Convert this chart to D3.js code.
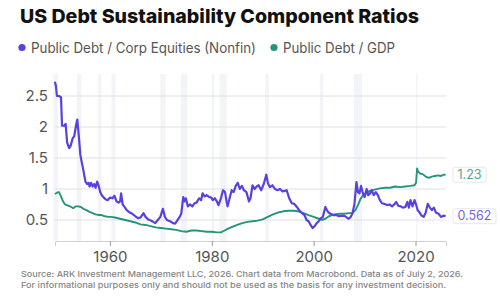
<!DOCTYPE html>
<html>
<head>
<meta charset="utf-8">
<script src="https://cdn.jsdelivr.net/npm/d3@7"></script>
<style>
  body { margin: 0; background: #fff; }
  svg { display: block; font-family: Inter, "Noto Sans", sans-serif; }
</style>
</head>
<body>
<svg width="500" height="298"></svg>
<script>
// Public debt / corporate equities (nonfinancial), [year, ratio]
const equityRatio = [
  [1949.2, 2.73], [1949.4, 2.66], [1949.6, 2.5], [1950.0, 2.5], [1950.4, 2.48], [1950.6, 2.02],
  [1951.0, 2.02], [1951.3, 2.05], [1951.6, 1.75], [1952.0, 1.66], [1952.3, 1.7], [1952.7, 1.82],
  [1953.0, 1.85], [1953.4, 2.05], [1953.6, 2.12], [1953.9, 1.85], [1954.2, 1.55], [1954.5, 1.42],
  [1954.8, 1.3], [1955.0, 1.2], [1955.2, 1.12], [1955.5, 1.08], [1955.8, 1.1], [1956.0, 1.04],
  [1956.3, 1.1], [1956.6, 1.04], [1956.9, 1.08], [1957.2, 1.02], [1957.5, 1.12], [1957.8, 1.05],
  [1958.1, 0.95], [1958.4, 0.9], [1958.8, 0.86], [1959.2, 0.83], [1959.6, 0.82], [1960.0, 0.86],
  [1960.5, 0.85], [1960.9, 0.89], [1961.3, 0.8], [1961.7, 0.78], [1962.0, 0.8], [1962.2, 0.93],
  [1962.5, 0.75], [1962.8, 0.72], [1963.3, 0.66], [1963.9, 0.62], [1964.4, 0.6], [1965.0, 0.56],
  [1965.5, 0.53], [1966.0, 0.54], [1966.6, 0.61], [1967.0, 0.55], [1967.5, 0.51], [1968.0, 0.49],
  [1968.5, 0.47], [1968.9, 0.45], [1969.4, 0.5], [1969.9, 0.55], [1970.4, 0.68], [1970.8, 0.55],
  [1971.2, 0.5], [1971.8, 0.48], [1972.4, 0.45], [1972.8, 0.44], [1973.3, 0.5], [1973.7, 0.55],
  [1974.0, 0.6], [1974.4, 0.87], [1974.6, 0.8], [1974.9, 0.85], [1975.3, 0.72], [1975.7, 0.75],
  [1976.2, 0.72], [1976.6, 0.77], [1977.0, 0.78], [1977.5, 0.85], [1977.9, 0.82], [1978.2, 0.93],
  [1978.6, 0.88], [1979.0, 0.9], [1979.5, 0.87], [1979.9, 0.86], [1980.2, 0.82], [1980.6, 0.85],
  [1981.0, 0.8], [1981.3, 0.74], [1981.8, 0.85], [1982.2, 0.98], [1982.6, 0.95], [1982.9, 0.8],
  [1983.1, 0.72], [1983.5, 0.85], [1983.9, 0.98], [1984.3, 0.95], [1984.7, 1.05], [1985.1, 1.1],
  [1985.5, 1.0], [1985.9, 1.05], [1986.3, 0.98], [1986.8, 0.95], [1987.3, 0.8], [1987.6, 0.85],
  [1988.0, 1.06], [1988.4, 1.0], [1988.8, 1.04], [1989.2, 1.06], [1989.7, 0.98], [1990.2, 1.08],
  [1990.7, 1.23], [1991.0, 1.1], [1991.4, 1.03], [1991.9, 1.06], [1992.4, 1.0], [1992.9, 0.98],
  [1993.4, 1.0], [1993.9, 0.96], [1994.3, 0.97], [1994.7, 0.98], [1995.2, 0.85], [1995.7, 0.77],
  [1996.2, 0.76], [1996.7, 0.71], [1997.2, 0.65], [1997.6, 0.62], [1998.2, 0.58], [1998.6, 0.5],
  [1999.0, 0.48], [1999.4, 0.42], [1999.8, 0.37], [2000.2, 0.4], [2000.6, 0.45], [2001.0, 0.48],
  [2001.3, 0.52], [2001.8, 0.55], [2002.3, 0.71], [2002.6, 0.66], [2002.9, 0.62], [2003.3, 0.6],
  [2003.8, 0.58], [2004.4, 0.58], [2005.0, 0.56], [2005.6, 0.57], [2006.2, 0.56], [2006.8, 0.52],
  [2007.2, 0.54], [2007.6, 0.6], [2008.0, 0.75], [2008.4, 1.11], [2008.7, 0.95], [2009.0, 0.93],
  [2009.3, 1.05], [2009.6, 0.95], [2010.0, 0.87], [2010.4, 1.0], [2010.7, 0.9], [2011.0, 0.92],
  [2011.4, 0.98], [2011.8, 0.9], [2012.2, 0.95], [2012.6, 0.9], [2013.0, 0.82], [2013.4, 0.77],
  [2013.9, 0.76], [2014.4, 0.74], [2014.9, 0.75], [2015.4, 0.72], [2015.8, 0.75], [2016.2, 0.79],
  [2016.6, 0.73], [2017.1, 0.72], [2017.5, 0.7], [2018.0, 0.71], [2018.4, 0.79], [2018.7, 0.7],
  [2019.0, 0.82], [2019.4, 0.72], [2019.8, 0.82], [2020.1, 0.75], [2020.4, 0.66], [2020.8, 0.62],
  [2021.2, 0.57], [2021.6, 0.55], [2022.0, 0.62], [2022.4, 0.76], [2022.8, 0.7], [2023.2, 0.66],
  [2023.6, 0.7], [2024.0, 0.62], [2024.5, 0.6], [2025.0, 0.55], [2025.5, 0.57], [2025.9, 0.562]
];

// Public debt / GDP, [year, ratio]
const gdpRatio = [
  [1949.2, 0.92], [1949.6, 0.94], [1950.0, 0.95], [1950.4, 0.88], [1950.8, 0.8], [1951.2, 0.75],
  [1951.8, 0.73], [1952.4, 0.71], [1952.8, 0.69], [1953.3, 0.72], [1953.8, 0.72], [1954.3, 0.71],
  [1954.8, 0.68], [1955.4, 0.66], [1956.0, 0.63], [1956.6, 0.61], [1957.2, 0.59], [1957.8, 0.58],
  [1958.4, 0.58], [1959.0, 0.56], [1959.6, 0.55], [1960.2, 0.55], [1961.0, 0.54], [1962.0, 0.52],
  [1963.0, 0.5], [1964.0, 0.48], [1965.0, 0.46], [1966.0, 0.43], [1967.0, 0.42], [1968.0, 0.4],
  [1969.0, 0.38], [1970.0, 0.37], [1971.0, 0.36], [1972.0, 0.35], [1973.0, 0.34], [1974.0, 0.32],
  [1975.0, 0.31], [1976.0, 0.33], [1977.0, 0.33], [1978.0, 0.32], [1979.0, 0.31], [1980.0, 0.31],
  [1981.0, 0.3], [1981.8, 0.3], [1982.5, 0.33], [1983.2, 0.36], [1984.0, 0.39], [1985.0, 0.42],
  [1986.0, 0.45], [1987.0, 0.47], [1988.0, 0.48], [1989.0, 0.49], [1990.0, 0.51], [1991.0, 0.55],
  [1992.0, 0.59], [1993.0, 0.62], [1994.0, 0.64], [1995.0, 0.65], [1996.0, 0.65], [1997.0, 0.64],
  [1998.0, 0.61], [1999.0, 0.58], [2000.0, 0.55], [2001.0, 0.52], [2001.6, 0.5], [2002.3, 0.52],
  [2003.0, 0.56], [2004.0, 0.59], [2005.0, 0.6], [2006.0, 0.6], [2007.0, 0.61], [2007.6, 0.61],
  [2008.2, 0.66], [2008.7, 0.74], [2009.2, 0.84], [2009.7, 0.9], [2010.3, 0.93], [2011.0, 0.97],
  [2012.0, 0.99], [2013.0, 1.01], [2014.0, 1.02], [2015.0, 1.02], [2016.0, 1.04], [2017.0, 1.03],
  [2018.0, 1.04], [2019.0, 1.05], [2019.8, 1.06], [2020.1, 1.1], [2020.3, 1.33], [2020.5, 1.28],
  [2020.9, 1.25], [2021.4, 1.24], [2022.0, 1.2], [2022.6, 1.18], [2023.2, 1.2], [2023.8, 1.21],
  [2024.4, 1.22], [2025.0, 1.21], [2025.5, 1.23], [2025.9, 1.23]
];

// NBER recessions, [start, end]
const recessions = [
  [1948.9, 1949.8], [1953.5, 1954.4], [1957.6, 1958.3], [1960.3, 1961.1], [1969.9, 1970.9],
  [1973.9, 1975.2], [1980.0, 1980.5], [1981.5, 1982.9], [1990.5, 1991.2], [2001.2, 2001.9],
  [2007.9, 2009.5], [2020.1, 2020.35]
];

const yTicks = [0.5, 1, 1.5, 2, 2.5];
const yTickLabels = ["0.5", "1", "1.5", "2", "2.5"];
const xTicks = [1960, 1980, 2000, 2020];

const seriesNames = ["Public Debt / Corp Equities (Nonfin)", "Public Debt / GDP"];
const seriesColors = ["#5742e0", "#24957a"];
const lastLabels = ["0.562", "1.23"];

const svg = d3.select("svg");

const x = d3.scaleLinear().domain([1949.22, 2025.98]).range([55, 446]);
const y = d3.scaleLinear().domain([0.161, 2.855]).range([241, 74]);

// Title
svg.append("text")
  .attr("x", 20)
  .attr("y", 23)
  .attr("font-size", 19)
  .attr("font-weight", 800)
  .attr("fill", "#111")
  .attr("textLength", 399)
  .attr("lengthAdjust", "spacingAndGlyphs")
  .text("US Debt Sustainability Component Ratios");

// Legend
const legendX = [22, 274];
const legendW = [225, 112];
seriesNames.forEach((name, i) => {
  svg.append("circle")
    .attr("cx", legendX[i])
    .attr("cy", 47.5)
    .attr("r", 3.6)
    .attr("fill", seriesColors[i]);
  svg.append("text")
    .attr("x", legendX[i] + 9)
    .attr("y", 52.5)
    .attr("font-size", 14)
    .attr("fill", "#555")
    .attr("textLength", legendW[i])
    .attr("lengthAdjust", "spacingAndGlyphs")
    .text(name);
});

// Recession shading
svg.append("g")
  .selectAll("rect")
  .data(recessions)
  .enter()
  .append("rect")
  .attr("x", d => x(d[0]))
  .attr("width", d => Math.max(1.5, x(d[1]) - x(d[0])))
  .attr("y", 74)
  .attr("height", 241 - 74)
  .attr("fill", "#f3f4f8");

// Gridlines + y labels
const grid = svg.append("g");
grid.selectAll("line")
  .data(yTicks)
  .enter()
  .append("line")
  .attr("x1", 55)
  .attr("x2", 446)
  .attr("y1", d => y(d))
  .attr("y2", d => y(d))
  .style("stroke", "#e0e0e0");

grid.selectAll("text")
  .data(yTicks)
  .enter()
  .append("text")
  .attr("x", 48)
  .attr("y", d => y(d) + 5)
  .attr("text-anchor", "end")
  .attr("font-size", 15)
  .attr("fill", "#555")
  .text((d, i) => yTickLabels[i]);

// X axis
const xAxis = svg.append("g")
  .attr("transform", "translate(0,241)")
  .call(d3.axisBottom(x).tickValues(xTicks).tickFormat(d3.format("d")).tickSize(5).tickPadding(5));
xAxis.select(".domain").style("stroke", "#d0d0d0");
xAxis.selectAll(".tick line").style("stroke", "#999");
xAxis.selectAll(".tick text")
  .attr("font-family", "Inter, 'Noto Sans', sans-serif")
  .attr("font-size", 15)
  .attr("fill", "#555");

// Lines
const line = d3.line()
  .x(d => x(d[0]))
  .y(d => y(d[1]));

[gdpRatio, equityRatio].forEach((data, k) => {
  const i = k === 0 ? 1 : 0;
  svg.append("path")
    .datum(data)
    .attr("d", line)
    .attr("fill", "none")
    .style("stroke", seriesColors[i])
    .style("stroke-width", i === 0 ? 2.2 : 1.9)
    .style("stroke-linejoin", "round");
});

// End labels
[equityRatio, gdpRatio].forEach((data, i) => {
  const last = data[data.length - 1];
  const g = svg.append("g").attr("transform", `translate(453,${y(last[1])})`);
  const t = g.append("text")
    .attr("x", 4.5)
    .attr("y", 4.3)
    .attr("font-size", 12.5)
    .attr("fill", seriesColors[i])
    .attr("fill-opacity", 0.85)
    .text(lastLabels[i]);
  const w = t.node().getComputedTextLength();
  g.insert("rect", "text")
    .attr("x", 0)
    .attr("y", -7.5)
    .attr("width", w + 9)
    .attr("height", 15)
    .attr("rx", 2)
    .attr("fill", "#fff")
    .style("stroke", "#e8e8e8");
});

// Footer
const footer = [
  "Source: ARK Investment Management LLC, 2026. Chart data from Macrobond. Data as of July 2, 2026.",
  "For informational purposes only and should not be used as the basis for any investment decision."
];
const footerW = [442, 425];
footer.forEach((s, i) => {
  svg.append("text")
    .attr("x", 21)
    .attr("y", 277 + i * 11)
    .attr("font-size", 8)
    .attr("font-weight", 500)
    .attr("fill", "#858585")
    .attr("textLength", footerW[i])
    .attr("lengthAdjust", "spacingAndGlyphs")
    .text(s);
});
</script>
</body>
</html>
